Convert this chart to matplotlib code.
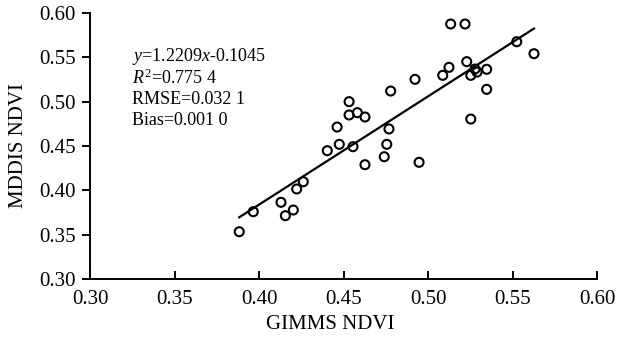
import matplotlib
matplotlib.use("Agg")
import matplotlib.pyplot as plt
import numpy as np

plt.rcParams["font.family"] = ["Liberation Serif", "DejaVu Serif"]
plt.rcParams["mathtext.fontset"] = "custom"
plt.rcParams["mathtext.rm"] = "Liberation Serif"
plt.rcParams["mathtext.it"] = "Liberation Serif:italic"

# GIMMS vs MODIS NDVI
gimms = [0.3883, 0.3966, 0.4130, 0.4156, 0.4203, 0.4223, 0.4262, 0.4404, 0.4462,
         0.4475, 0.4533, 0.4533, 0.4556, 0.4582, 0.4627, 0.4627, 0.4741, 0.4756,
         0.4769, 0.4779, 0.4923, 0.4947, 0.5087, 0.5124, 0.5134, 0.5219, 0.5229,
         0.5253, 0.5253, 0.5278, 0.5290, 0.5347, 0.5347, 0.5525, 0.5627]
modis = [0.3533, 0.3759, 0.3865, 0.3714, 0.3778, 0.4015, 0.4097, 0.4447, 0.4714,
         0.4519, 0.5000, 0.4850, 0.4492, 0.4876, 0.4827, 0.4289, 0.4379, 0.4519,
         0.4692, 0.5120, 0.5252, 0.4316, 0.5297, 0.5387, 0.5876, 0.5876, 0.5451,
         0.5297, 0.4804, 0.5368, 0.5334, 0.5365, 0.5139, 0.5676, 0.5541]
slope = 1.2209
intercept = -0.1045
stats_lines = [r"$\mathit{y}$=1.2209$\mathit{x}$-0.1045",
               r"$\mathit{R}^2$=0.775 4",
               "RMSE=0.032 1",
               "Bias=0.001 0"]
ticks = [0.30, 0.35, 0.40, 0.45, 0.50, 0.55, 0.60]

fig = plt.figure(figsize=(6.19, 3.42), dpi=100)
ax = fig.add_axes([0.1454, 0.1842, 0.8191, 0.7778])

ax.scatter(gimms, modis, s=42, facecolors="none", edgecolors="black", linewidths=1.5, zorder=3)
xl = np.array([min(gimms), max(gimms)])
ax.plot(xl, slope * xl + intercept, color="black", lw=1.6, zorder=2)

ax.set_xlim(0.30, 0.60)
ax.set_ylim(0.30, 0.60)
ax.set_xticks(ticks)
ax.set_yticks(ticks)
ax.set_xticklabels([f"{t:.2f}" for t in ticks])
ax.set_yticklabels([f"{t:.2f}" for t in ticks])
ax.spines["top"].set_visible(False)
ax.spines["right"].set_visible(False)
ax.spines["left"].set_linewidth(1.4)
ax.spines["bottom"].set_linewidth(1.4)
ax.tick_params(axis="x", direction="in", length=6, width=1.4, labelsize=15, pad=8)
ax.tick_params(axis="y", direction="out", length=6, width=1.4, labelsize=15, pad=4)

ax.set_xlabel("GIMMS NDVI", fontsize=15)
ax.xaxis.set_label_coords(0.473, -0.135)
ax.set_ylabel("MDDIS NDVI", fontsize=15, labelpad=8)

for i, line in enumerate(stats_lines):
    ax.text(0.3249, 0.5504 - i * 0.0237, line, fontsize=13, va="center", ha="left")

fig.savefig("out.png", dpi=100)
